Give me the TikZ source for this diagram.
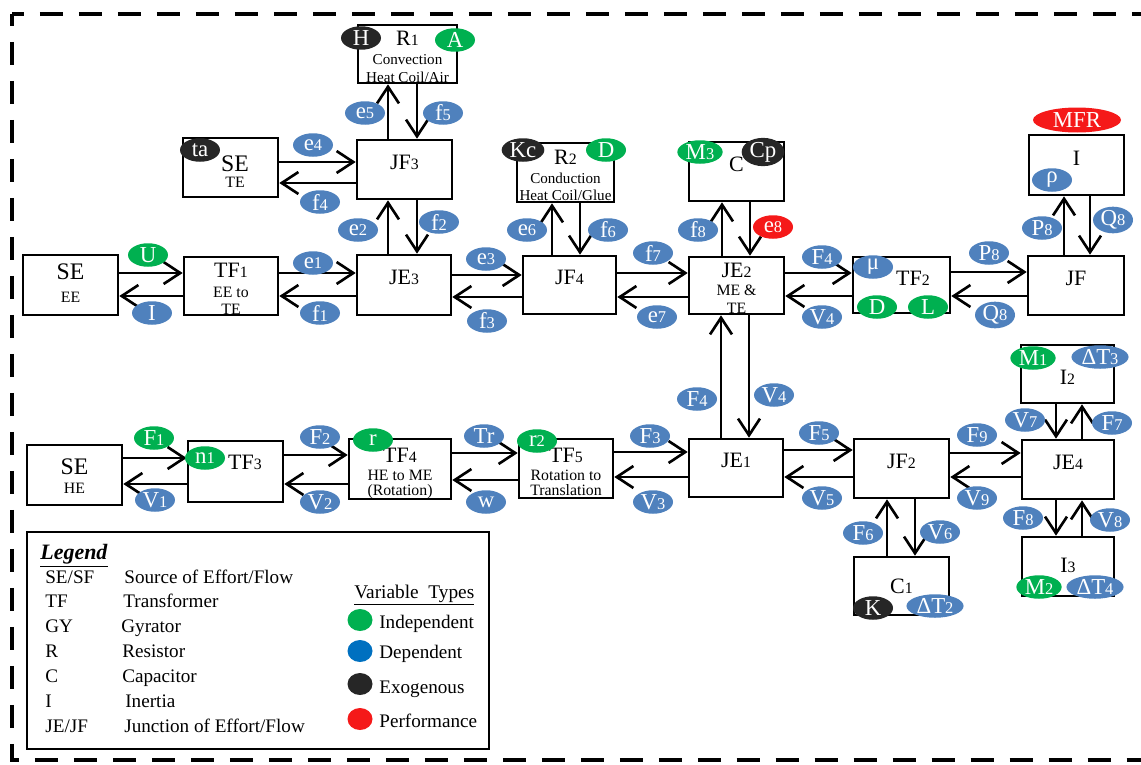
\documentclass[tikz,border=0pt]{standalone}
\usepackage{fontspec}
\setmainfont{Liberation Serif}
\usetikzlibrary{arrows.meta,shapes.geometric,fit}
\definecolor{depb}{RGB}{79,129,189}
\definecolor{indg}{RGB}{0,176,80}
\definecolor{exok}{RGB}{38,38,38}
\definecolor{perf}{RGB}{245,25,25}
\definecolor{legb}{RGB}{0,112,192}
\newcommand\ix[1]{\scalebox{0.72}{#1}}
\newcommand\mainf{\fontsize{12.5}{14}\selectfont}
\newcommand\sef{\fontsize{13.5}{14}\selectfont}
\newcommand\smf{\fontsize{9}{10}\selectfont}
\newcommand\tnf{\fontsize{8.6}{10}\selectfont}
\newcommand\hpair[4]{%
  \draw[conn] (#1.east |- 0,#3) -- (#2.west |- 0,#3);
  \draw[conn] (#2.west |- 0,#4) -- (#1.east |- 0,#4);}
\newcommand\vpair[4]{%
  \draw[conn] (#3,0 |- #1.north) -- (#3,0 |- #2.south);
  \draw[conn] (#4,0 |- #2.south) -- (#4,0 |- #1.north);}
\tikzset{
  box/.style={draw, line width=1.5pt, inner sep=0pt, align=center, font=\mainf},
  conn/.style={line width=1.5pt, -{Straight Barb[length=9.5pt,width=12.5pt]}},
  var/.style={ellipse, inner xsep=1pt, inner ysep=0pt, minimum width=0.8cm, minimum height=0.47cm, text=white, font=\fontsize{13}{13}\selectfont},
  dep/.style={var, fill=depb},
  ind/.style={var, fill=indg},
  exo/.style={var, fill=exok},
  prf/.style={var, fill=perf},
  lgt/.style={anchor=base west, inner sep=0pt, font=\fontsize{10.9}{12}\selectfont},
  dot/.style={ellipse, minimum width=0.5cm, minimum height=0.44cm, inner sep=0pt},
}
\begin{document}
\begin{tikzpicture}[x=0.02cm, y=-0.02cm]
\useasboundingbox (0,0) rectangle (1141,764);
% frame
\draw[line width=2.8pt, dash pattern=on 0.46cm off 0.32cm, dash phase=0.22cm] (12,14) -- (1141,14);
\draw[line width=2.8pt, dash pattern=on 0.46cm off 0.32cm, dash phase=0.22cm] (12,14) -- (12,760) -- (1141,760);
% boxes row 1
\node[box, fit={(23,255)(118,315)},
  label={[yshift=0.26cm,font=\sef]center:SE},
  label={[yshift=-0.24cm,font=\smf]center:EE}] (see) {};
\node[box, fit={(184,257)(278,315)},
  label={[yshift=0.32cm,font=\mainf]center:TF\ix1},
  label={[yshift=-0.12cm,font=\smf]center:EE to},
  label={[yshift=-0.47cm,font=\smf]center:TE}] (tf1) {};
\node[box, fit={(357,255)(451,315)}] (je3) {JE\ix3};
\node[box, fit={(523,256)(616,314)}] (jf4) {JF\ix4};
\node[box, fit={(689,257)(784,314)},
  label={[yshift=0.31cm,font=\mainf]center:JE\ix2},
  label={[yshift=-0.09cm,font=\smf]center:ME \&},
  label={[yshift=-0.45cm,font=\smf]center:TE}] (je2) {};
\node[box, fit={(853,257)(950,313)}, label={[xshift=0.23cm,yshift=0.14cm,font=\mainf]center:TF\ix2}] (tf2) {};
\node[box, fit={(1028,256)(1124,315)}] (jf) {JF};
% upper boxes
\node[box, fit={(183,138)(278,197)},
  label={[xshift=0.09cm,yshift=0.07cm,font=\sef]center:SE},
  label={[xshift=0.09cm,yshift=-0.29cm,font=\smf]center:TE}] (sete) {};
\node[box, fit={(357,140)(452,199)}] (jf3) {JF\ix3};
\node[box, fit={(358,25)(457,83)},
  label={[yshift=0.32cm,font=\mainf]center:R\ix1},
  label={[yshift=-0.12cm,font=\tnf]center:Convection},
  label={[yshift=-0.46cm,font=\tnf]center:Heat Coil/Air}] (r1) {};
\node[box, fit={(517,143)(614,202)},
  label={[yshift=0.31cm,font=\mainf]center:R\ix2},
  label={[yshift=-0.11cm,font=\tnf]center:Conduction},
  label={[yshift=-0.45cm,font=\tnf]center:Heat Coil/Glue}] (r2) {};
\node[box, fit={(689,142)(784,201)}] (boxC) {C};
\node[box, fit={(1029,135)(1124,195)}, label={[yshift=0.14cm,font=\mainf]center:I}] (boxI) {};
% row 2
\node[box, fit={(27,445)(122,505)},
  label={[yshift=0.16cm,font=\sef]center:SE},
  label={[yshift=-0.26cm,font=\smf]center:HE}] (sehe) {};
\node[box, fit={(188,441)(283,502)}, label={[xshift=0.19cm,yshift=0.18cm,font=\mainf]center:TF\ix3}] (tf3) {};
\node[box, fit={(349,439)(451,499)},
  label={[yshift=0.28cm,font=\mainf]center:TF\ix4},
  label={[yshift=-0.12cm,font=\smf]center:HE to ME},
  label={[yshift=-0.46cm,font=\smf]center:(Rotation)}] (tf4) {};
\node[box, fit={(519,439)(613,498)},
  label={[yshift=0.27cm,font=\mainf]center:TF\ix5},
  label={[yshift=-0.13cm,font=\smf]center:Rotation to},
  label={[yshift=-0.43cm,font=\smf]center:Translation}] (tf5) {};
\node[box, fit={(689,439)(783,497)}] (je1) {JE\ix1};
\node[box, fit={(854,439)(949,498)}] (jf2) {JF\ix2};
\node[box, fit={(1022,440)(1114,499)}] (je4) {JE\ix4};
\node[box, fit={(1021,345)(1114,403)}, label={[yshift=-0.06cm,font=\mainf]center:I\ix2}] (i2) {};
\node[box, fit={(1022,537)(1114,596)}, label={[yshift=0.03cm,font=\mainf]center:I\ix3}] (i3) {};
\node[box, fit={(854,557)(949,615)}, label={[font=\mainf]center:C\ix1}] (c1) {};
% connectors horizontal
\hpair{see}{tf1}{273}{296}
\hpair{tf1}{je3}{273}{296}
\hpair{je3}{jf4}{275}{297}
\hpair{jf4}{je2}{273}{297}
\hpair{je2}{tf2}{273}{296}
\hpair{tf2}{jf}{272}{296}
\hpair{sete}{jf3}{162}{183}
\hpair{sehe}{tf3}{458}{484}
\hpair{tf3}{tf4}{455}{484}
\hpair{tf4}{tf5}{453}{480}
\hpair{tf5}{je1}{452}{477}
\hpair{je1}{jf2}{450}{477}
\hpair{jf2}{je4}{453}{477}
% connectors vertical
\vpair{je3}{jf3}{388}{417}
\vpair{jf3}{r1}{388}{417}
\vpair{jf4}{r2}{552}{580}
\vpair{je2}{boxC}{722}{750}
\vpair{jf}{boxI}{1064}{1090}
\vpair{je1}{je2}{721}{749}
\vpair{c1}{jf2}{887}{915}
\vpair{je4}{i2}{1082}{1056}
\vpair{i3}{je4}{1082}{1056}
% variable labels row 1
\node[ind] (vU) at (148,255) {U};
\node[dep] (vI) at (152,313) {I};
\node[dep] (ve1) at (313,263) {e\ix1};
\node[dep] (vf1) at (320,313) {f\ix1};
\node[dep] (ve3) at (486,259) {e\ix3};
\node[dep] (vf3) at (487,321) {f\ix3};
\node[dep] (vf7) at (653,253) {f\ix7};
\node[dep] (ve7) at (657,317) {e\ix7};
\node[dep] (vF4a) at (822,257) {F\ix4};
\node[dep] (vV4a) at (822,317) {V\ix4};
\node[dep] (vP8a) at (989,253) {P\ix8};
\node[dep] (vQ8a) at (995,315) {Q\ix8};
% upper labels
\node[dep] (ve2) at (358,230) {e\ix2};
\node[dep] (vf2) at (439,222) {f\ix2};
\node[dep] (ve4) at (313,145) {e\ix4};
\node[dep] (vf4) at (320,202) {f\ix4};
\node[dep] (ve5) at (365,113) {e\ix5};
\node[dep] (vf5) at (443,113) {f\ix5};
\node[dep] (ve6) at (527,230) {e\ix6};
\node[dep] (vf6) at (608,230) {f\ix6};
\node[dep] (vf8) at (698,230) {f\ix8};
\node[prf] (ve8) at (773,227) {e\ix8};
\node[dep] (vP8b) at (1042,228) {P\ix8};
\node[dep] (vQ8b) at (1113,220) {Q\ix8};
\node[dep] (vF4b) at (697,399) {F\ix4};
\node[dep] (vV4b) at (774,395) {V\ix4};
% row 2 labels
\node[ind] (vF1) at (154,438) {F\ix1};
\node[dep] (vV1) at (155,500) {V\ix1};
\node[dep] (vF2) at (320,437) {F\ix2};
\node[dep] (vV2) at (320,502) {V\ix2};
\node[dep] (vTr) at (484,436) {Tr};
\node[dep] (vw) at (486,502) {w};
\node[dep] (vF3) at (650,436) {F\ix3};
\node[dep] (vV3) at (653,502) {V\ix3};
\node[dep] (vF5) at (819,433) {F\ix5};
\node[dep] (vV5) at (822,498) {V\ix5};
\node[dep] (vF9) at (977,435) {F\ix9};
\node[dep] (vV9) at (977,498) {V\ix9};
\node[dep] (vV7) at (1025,420) {V\ix7};
\node[dep] (vF7) at (1112,423) {F\ix7};
\node[dep] (vF8) at (1023,518) {F\ix8};
\node[dep] (vV8) at (1110,520) {V\ix8};
\node[dep] (vF6) at (863,533) {F\ix6};
\node[dep] (vV6) at (940,532) {V\ix6};
% attached parameters
\node[exo] (pH) at (361,38) {H};
\node[ind] (pA) at (455,40) {A};
\node[exo] (pta) at (200,150) {ta};
\node[exo] (pKc) at (523,150) {Kc};
\node[ind] (pD1) at (606,150) {D};
\node[ind] (pM3) at (700,152) {M\ix3};
\node[exo] (pCp) at (763,152) {Cp};
\node[prf, minimum width=1.76cm, minimum height=0.5cm] (pMFR) at (1077,120) {MFR};
\node[dep] (prho) at (1052,180) {ρ};
\node[dep] (pmu) at (873,267) {μ};
\node[ind] (pD2) at (877,307) {D};
\node[ind] (pL) at (928,307) {L};
\node[ind] (pr) at (373,440) {r};
\node[ind] (pr2) at (537,441) {r\ix2};
\node[ind] (pn1) at (205,458) {n\ix1};
\node[ind] (pM1) at (1033,358) {M\ix1};
\node[dep] (pdT3) at (1100,357) {ΔT\ix3};
\node[ind] (pM2) at (1039,587) {M\ix2};
\node[dep] (pdT4) at (1095,587) {ΔT\ix4};
\node[exo] (pK) at (873,608) {K};
\node[dep] (pdT2) at (935,606) {ΔT\ix2};
% legend
\node[draw, line width=1.2pt, inner sep=0pt, fit={(27,532)(489,749)}] (legend) {};
\node[lgt, font=\fontsize{12.5}{14}\selectfont] (lgtitle) at (40,559) {\underline{\textbf{\textit{Legend}}}};
\node[lgt] (lk1) at (45,583) {SE/SF};
\node[lgt] (ld1) at (124,583) {Source of Effort/Flow};
\node[lgt] (lk2) at (45,607) {TF};
\node[lgt] (ld2) at (123,607) {Transformer};
\node[lgt] (lk3) at (45,632) {GY};
\node[lgt] (ld3) at (121,632) {Gyrator};
\node[lgt] (lk4) at (45,657) {R};
\node[lgt] (ld4) at (122,657) {Resistor};
\node[lgt] (lk5) at (45,682) {C};
\node[lgt] (ld5) at (122,682) {Capacitor};
\node[lgt] (lk6) at (45,707) {I};
\node[lgt] (ld6) at (125,707) {Inertia};
\node[lgt] (lk7) at (45,732) {JE/JF};
\node[lgt] (ld7) at (124,732) {Junction of Effort/Flow};
\node[lgt, font=\fontsize{11}{12}\selectfont] (lvt) at (354,598) {\underline{Variable\ \ Types}};
\node[dot, fill=indg] (dI) at (360,620) {};
\node[dot, fill=legb] (dD) at (360,651) {};
\node[dot, fill=exok] (dE) at (360,684) {};
\node[dot, fill=perf] (dP) at (360,719) {};
\node[lgt] (tI) at (379,628) {Independent};
\node[lgt] (tD) at (379,658) {Dependent};
\node[lgt] (tE) at (379,693) {Exogenous};
\node[lgt] (tP) at (379,727) {Performance};
\end{tikzpicture}
\end{document}
